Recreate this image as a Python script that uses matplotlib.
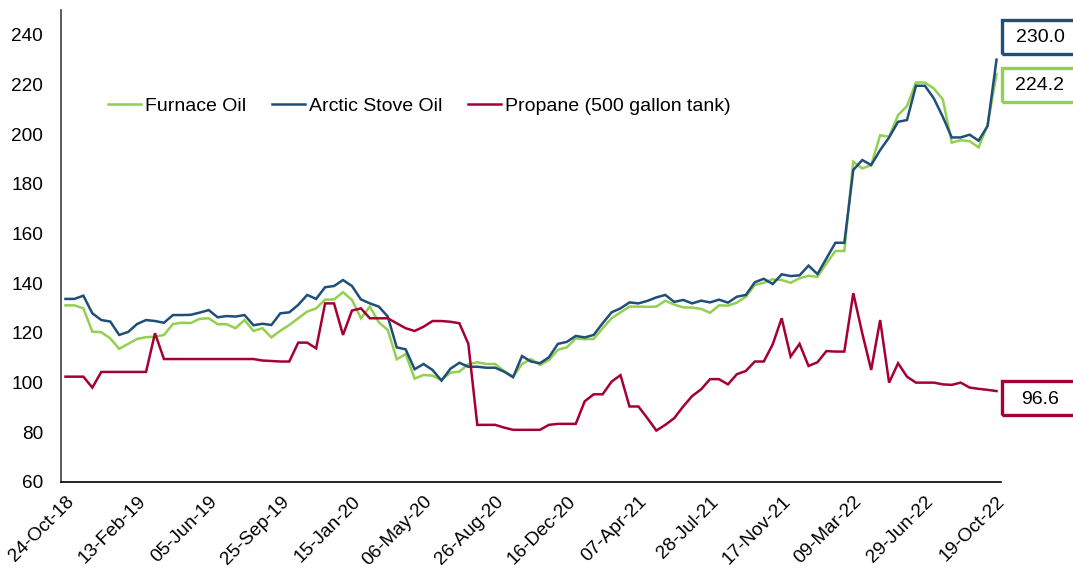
import matplotlib
matplotlib.use("Agg")
import matplotlib.pyplot as plt
from matplotlib.patches import Rectangle

plt.rcParams['font.family'] = ['Liberation Sans', 'DejaVu Sans']

# Biweekly observations, 24-Oct-18 .. 19-Oct-22 (105 points)
tick_labels = ["24-Oct-18", "13-Feb-19", "05-Jun-19", "25-Sep-19", "15-Jan-20",
               "06-May-20", "26-Aug-20", "16-Dec-20", "07-Apr-21", "28-Jul-21",
               "17-Nov-21", "09-Mar-22", "29-Jun-22", "19-Oct-22"]

furnace_oil = [
    131.1, 131.1, 129.9, 120.5, 120.3, 117.8, 113.6, 115.6, 117.6, 118.3,
    118.5, 119.2, 123.6, 124.1, 124.0, 125.7, 125.9, 123.5, 123.5, 121.9,
    125.2, 120.8, 121.9, 118.2, 120.9, 123.2, 125.9, 128.6, 129.9, 133.4,
    133.5, 136.4, 133.3, 125.9, 130.6, 124.3, 121.2, 109.4, 111.5, 101.6,
    103.1, 102.8, 101.1, 104.0, 104.4, 107.4, 108.2, 107.5, 107.5, 104.7,
    102.4, 107.5, 109.5, 107.1, 109.1, 113.2, 114.2, 117.8, 117.5, 117.6,
    121.9, 125.9, 128.3, 130.6, 130.6, 130.5, 130.6, 133.0, 131.4, 130.3,
    130.2, 129.7, 128.1, 131.1, 131.0, 132.2, 134.6, 139.3, 140.2, 141.6,
    141.3, 140.2, 142.0, 143.0, 142.6, 148.0, 153.0, 153.0, 188.9, 186.2,
    187.6, 199.6, 199.0, 207.7, 211.3, 220.8, 220.8, 218.4, 214.0, 196.6,
    197.6, 197.2, 194.7, 203.7, 224.2]

arctic_stove_oil = [
    133.7, 133.7, 135.0, 127.9, 125.2, 124.6, 119.2, 120.4, 123.6, 125.2,
    124.8, 124.1, 127.2, 127.2, 127.3, 128.2, 129.2, 126.3, 126.8, 126.6,
    127.2, 123.1, 123.7, 123.2, 127.9, 128.3, 131.3, 135.3, 133.7, 138.4,
    138.9, 141.3, 138.9, 133.5, 131.9, 130.6, 126.6, 114.2, 113.4, 105.4,
    107.5, 105.1, 100.8, 105.6, 108.0, 106.4, 106.4, 106.0, 106.0, 104.4,
    102.2, 110.7, 108.5, 107.8, 110.2, 115.6, 116.4, 118.8, 118.2, 119.2,
    123.9, 128.3, 129.9, 132.3, 131.9, 132.9, 134.3, 135.3, 132.5, 133.3,
    131.9, 133.0, 132.3, 133.4, 132.2, 134.6, 135.3, 140.4, 141.8, 139.7,
    143.6, 142.9, 143.2, 147.1, 143.7, 150.0, 156.3, 156.3, 185.6, 189.6,
    187.6, 193.6, 198.7, 205.0, 205.7, 219.5, 219.5, 214.4, 207.0, 198.7,
    198.7, 199.8, 197.4, 203.3, 230.0]

propane = [
    102.4, 102.4, 102.4, 98.0, 104.3, 104.3, 104.3, 104.3, 104.3, 104.3,
    119.9, 109.5, 109.5, 109.5, 109.5, 109.5, 109.5, 109.5, 109.5, 109.5,
    109.5, 109.5, 108.9, 108.7, 108.5, 108.5, 116.1, 116.1, 113.8, 131.9,
    131.9, 119.2, 129.0, 129.9, 125.9, 125.9, 125.9, 123.9, 121.9, 120.8,
    122.5, 124.8, 124.8, 124.5, 123.9, 115.6, 83.0, 83.0, 83.0, 81.9,
    81.0, 81.0, 81.0, 81.0, 83.0, 83.4, 83.4, 83.4, 92.5, 95.3,
    95.3, 100.4, 103.0, 90.4, 90.4, 85.7, 80.7, 83.0, 85.7, 90.4,
    94.6, 97.3, 101.4, 101.4, 99.3, 103.4, 104.7, 108.5, 108.5, 115.4,
    125.9, 110.5, 115.6, 106.7, 108.2, 112.7, 112.5, 112.5, 136.0, 119.9,
    105.1, 125.2, 100.0, 107.8, 102.4, 100.0, 100.0, 100.0, 99.3, 99.1,
    100.0, 98.0, 97.5, 97.1, 96.6]

series_names = ["Furnace Oil", "Arctic Stove Oil", "Propane (500 gallon tank)"]
colors = ["#92D050", "#1F4E79", "#A50034"]

W, H = 1073, 575
fig = plt.figure(figsize=(W / 100, H / 100), dpi=100)
ax = fig.add_axes([61 / W, 1 - 482 / H, (1001 - 61) / W, (482 - 10) / H])

x = list(range(len(furnace_oil)))
for vals, name, c in zip([furnace_oil, arctic_stove_oil, propane], series_names, colors):
    ax.plot(x, vals, color=c, lw=1.8, label=name, solid_joinstyle='miter')

ax.set_ylim(60, 250)
ax.set_xlim(-0.5, len(x) - 0.5)
ax.set_yticks(range(60, 241, 20))
ax.tick_params(axis='y', length=0, pad=13, labelsize=13.7, colors='black')
ax.set_xticks(range(0, len(x), 8))
ax.set_xticklabels(tick_labels, rotation=45, ha='right', va='top',
                   rotation_mode='anchor', fontsize=13.7)
ax.tick_params(axis='x', length=0, pad=8)
for s in ['top', 'right']:
    ax.spines[s].set_visible(False)
ax.spines['left'].set_color('#404040')
ax.spines['bottom'].set_color('black')
ax.spines['left'].set_linewidth(1.2)
ax.spines['bottom'].set_linewidth(1.2)

leg = fig.legend(loc='center left', bbox_to_anchor=(108 / W, 1 - 106 / H), ncol=3,
                 frameon=False, fontsize=14.0, handlelength=1.7, handletextpad=0.22,
                 columnspacing=1.3, borderpad=0, borderaxespad=0)

# end-value boxes
last_vals = [arctic_stove_oil[-1], furnace_oil[-1], propane[-1]]
box_colors = [colors[1], colors[0], colors[2]]
box_tops = [20, 68, 381]
for v, c, top in zip(last_vals, box_colors, box_tops):
    rect = Rectangle((1002 / W, 1 - (top + 34) / H), 100 / W, 34 / H,
                     transform=fig.transFigure, fill=False, edgecolor=c, lw=2.4,
                     clip_on=False)
    fig.patches.append(rect)
    fig.text(1040 / W, 1 - (top + 18) / H, f"{v:.1f}", ha='center', va='center',
             fontsize=14, color='black')

fig.savefig("out.png", dpi=100)
